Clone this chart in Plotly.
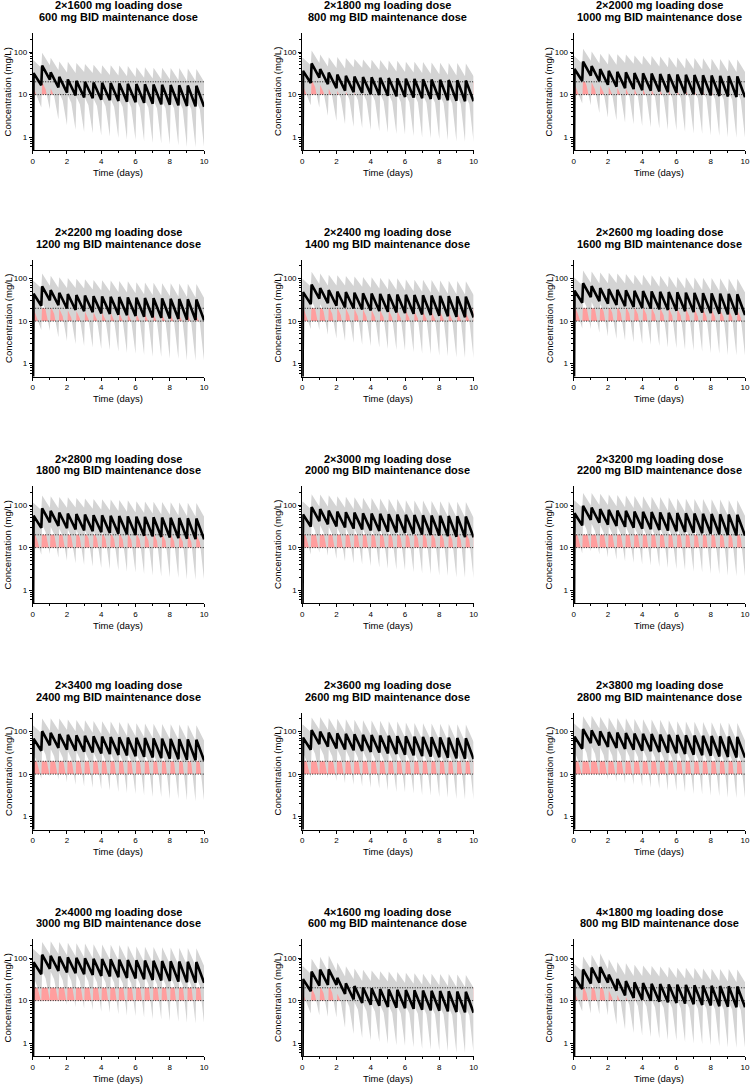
import plotly.graph_objects as go

LOADING_TITLES = ["2×1600 mg loading dose", "2×1800 mg loading dose", "2×2000 mg loading dose",
                  "2×2200 mg loading dose", "2×2400 mg loading dose", "2×2600 mg loading dose",
                  "2×2800 mg loading dose", "2×3000 mg loading dose", "2×3200 mg loading dose",
                  "2×3400 mg loading dose", "2×3600 mg loading dose", "2×3800 mg loading dose",
                  "2×4000 mg loading dose", "4×1600 mg loading dose", "4×1800 mg loading dose"]
MAINTENANCE_TITLES = ["600 mg BID maintenance dose", "800 mg BID maintenance dose", "1000 mg BID maintenance dose",
                      "1200 mg BID maintenance dose", "1400 mg BID maintenance dose", "1600 mg BID maintenance dose",
                      "1800 mg BID maintenance dose", "2000 mg BID maintenance dose", "2200 mg BID maintenance dose",
                      "2400 mg BID maintenance dose", "2600 mg BID maintenance dose", "2800 mg BID maintenance dose",
                      "3000 mg BID maintenance dose", "600 mg BID maintenance dose", "800 mg BID maintenance dose"]

# dose times (days), BID
DOSE_TIMES = [0.0, 0.5, 1.0, 1.5, 2.0, 2.5, 3.0, 3.5, 4.0, 4.5,
              5.0, 5.5, 6.0, 6.5, 7.0, 7.5, 8.0, 8.5, 9.0, 9.5]
TARGET_LOW = 10
TARGET_HIGH = 20
PREDOSE_CONC = 0.01   # 0 mg/L before first dose (log axis)

# median profile: peak after each dose, trough at the end of each interval (mg/L)
MEDIAN_PEAK = [
    [32, 47.8, 33.3, 26.0, 22.7, 21.0, 20.1, 19.3, 19.0, 18.7, 18.3, 18.0, 17.8, 17.5, 17.3, 17.0, 16.8, 16.6, 16.3, 16.1],
    [36, 53.8, 39.9, 32.8, 29.4, 27.7, 26.7, 25.7, 25.4, 24.9, 24.4, 24.0, 23.7, 23.4, 23.0, 22.7, 22.4, 22.1, 21.8, 21.4],
    [40, 59.8, 46.6, 39.6, 36.2, 34.4, 33.3, 32.1, 31.7, 31.1, 30.5, 30.0, 29.6, 29.2, 28.8, 28.4, 28.0, 27.6, 27.2, 26.8],
    [44, 65.8, 53.3, 46.4, 43.0, 41.1, 39.9, 38.5, 38.0, 37.3, 36.6, 36.0, 35.5, 35.0, 34.6, 34.1, 33.6, 33.1, 32.6, 32.2],
    [48, 71.8, 59.9, 53.2, 49.7, 47.8, 46.5, 44.9, 44.4, 43.5, 42.7, 42.0, 41.4, 40.9, 40.3, 39.8, 39.2, 38.6, 38.1, 37.5],
    [52, 77.7, 66.6, 60.0, 56.6, 54.5, 53.0, 51.4, 50.7, 49.8, 48.8, 48.0, 47.4, 46.7, 46.1, 45.4, 44.8, 44.2, 43.5, 42.9],
    [56, 83.7, 73.2, 66.8, 63.3, 61.2, 59.6, 57.8, 57.1, 56.0, 54.9, 54.0, 53.3, 52.6, 51.8, 51.1, 50.4, 49.7, 49.0, 48.2],
    [60, 89.7, 79.9, 73.6, 70.1, 67.9, 66.2, 64.2, 63.4, 62.2, 61.0, 60.0, 59.2, 58.4, 57.6, 56.8, 56.0, 55.2, 54.4, 53.6],
    [64, 95.7, 86.6, 80.4, 76.9, 74.6, 72.8, 70.6, 69.7, 68.4, 67.1, 66.0, 65.1, 64.2, 63.4, 62.5, 61.6, 60.7, 59.8, 59.0],
    [68, 101.7, 93.2, 87.2, 83.6, 81.3, 79.4, 77.0, 76.1, 74.6, 73.2, 72.0, 71.0, 70.1, 69.1, 68.2, 67.2, 66.2, 65.3, 64.3],
    [72, 107.6, 99.9, 94.0, 90.5, 88.0, 85.9, 83.5, 82.4, 80.9, 79.3, 78.0, 77.0, 75.9, 74.9, 73.8, 72.8, 71.8, 70.7, 69.7],
    [76, 113.6, 106.5, 100.8, 97.2, 94.7, 92.5, 89.9, 88.8, 87.1, 85.4, 84.0, 82.9, 81.8, 80.6, 79.5, 78.4, 77.3, 76.2, 75.0],
    [80, 119.6, 113.2, 107.6, 104.0, 101.4, 99.1, 96.3, 95.1, 93.3, 91.5, 90.0, 88.8, 87.6, 86.4, 85.2, 84.0, 82.8, 81.6, 80.4],
    [32, 47.8, 53.3, 54.2, 34.2, 25.6, 22.0, 20.3, 19.5, 18.7, 18.3, 18.0, 17.8, 17.5, 17.3, 17.0, 16.8, 16.6, 16.3, 16.1],
    [36, 53.8, 59.9, 61.0, 41.0, 32.3, 28.7, 26.8, 25.9, 24.9, 24.4, 24.0, 23.7, 23.4, 23.0, 22.7, 22.4, 22.1, 21.8, 21.4],
]
MEDIAN_TROUGH = [
    [16.6, 22.4, 14.7, 11.1, 9.6, 8.6, 8.2, 7.6, 7.4, 7.1, 6.8, 6.6, 6.4, 6.1, 5.9, 5.8, 5.6, 5.4, 5.3, 5.2],
    [18.7, 25.2, 17.6, 14.1, 12.4, 11.4, 10.9, 10.2, 9.8, 9.4, 9.1, 8.8, 8.5, 8.2, 7.9, 7.7, 7.4, 7.2, 7.0, 7.0],
    [20.8, 28.0, 20.6, 17.0, 15.3, 14.2, 13.5, 12.7, 12.3, 11.8, 11.4, 11.0, 10.6, 10.2, 9.9, 9.6, 9.3, 9.0, 8.8, 8.7],
    [22.9, 30.8, 23.6, 19.9, 18.2, 17.0, 16.1, 15.2, 14.8, 14.2, 13.7, 13.2, 12.7, 12.2, 11.9, 11.5, 11.2, 10.8, 10.6, 10.4],
    [25.0, 33.6, 26.5, 22.9, 21.0, 19.8, 18.8, 17.8, 17.2, 16.5, 16.0, 15.4, 14.8, 14.3, 13.9, 13.4, 13.0, 12.6, 12.3, 12.2],
    [27.0, 36.4, 29.4, 25.7, 23.9, 22.4, 21.5, 20.3, 19.7, 18.9, 18.2, 17.6, 17.0, 16.3, 15.8, 15.4, 14.9, 14.4, 14.1, 13.9],
    [29.1, 39.2, 32.3, 28.7, 26.7, 25.2, 24.2, 22.9, 22.1, 21.2, 20.5, 19.8, 19.1, 18.4, 17.8, 17.3, 16.7, 16.2, 15.8, 15.7],
    [31.2, 42.0, 35.3, 31.6, 29.6, 28.0, 26.8, 25.4, 24.6, 23.6, 22.8, 22.0, 21.2, 20.4, 19.8, 19.2, 18.6, 18.0, 17.6, 17.4],
    [33.3, 44.8, 38.3, 34.5, 32.5, 30.8, 29.4, 27.9, 27.1, 26.0, 25.1, 24.2, 23.3, 22.4, 21.8, 21.1, 20.5, 19.8, 19.4, 19.1],
    [35.4, 47.6, 41.2, 37.5, 35.3, 33.6, 32.1, 30.5, 29.5, 28.3, 27.4, 26.4, 25.4, 24.5, 23.8, 23.0, 22.3, 21.6, 21.1, 20.9],
    [37.4, 50.4, 44.1, 40.3, 38.2, 36.2, 34.8, 33.0, 32.0, 30.7, 29.6, 28.6, 27.6, 26.5, 25.7, 25.0, 24.2, 23.4, 22.9, 22.6],
    [39.5, 53.2, 47.0, 43.3, 41.0, 39.0, 37.5, 35.6, 34.4, 33.0, 31.9, 30.8, 29.7, 28.6, 27.7, 26.9, 26.0, 25.2, 24.6, 24.4],
    [41.6, 56.0, 50.0, 46.2, 43.9, 41.8, 40.1, 38.1, 36.9, 35.4, 34.2, 33.0, 31.8, 30.6, 29.7, 28.8, 27.9, 27.0, 26.4, 26.1],
    [16.6, 22.4, 23.5, 23.4, 14.3, 10.6, 8.8, 8.0, 7.6, 7.1, 6.8, 6.6, 6.4, 6.1, 5.9, 5.8, 5.6, 5.4, 5.3, 5.2],
    [18.7, 25.2, 26.5, 26.3, 17.1, 13.3, 11.5, 10.5, 10.0, 9.4, 9.1, 8.8, 8.5, 8.2, 7.9, 7.7, 7.4, 7.2, 7.0, 7.0],
]

# upper edge of the prediction interval
UPPER_PEAK = [
    [64, 96, 73, 60, 59, 55, 52, 50, 49, 49, 48, 47, 44, 44, 43, 43, 42, 42, 41, 40],
    [72, 108, 88, 75, 76, 72, 69, 67, 66, 65, 63, 62, 59, 59, 58, 57, 56, 55, 55, 54],
    [80, 120, 103, 91, 94, 89, 87, 83, 82, 81, 79, 78, 74, 73, 72, 71, 70, 69, 68, 67],
    [88, 132, 117, 107, 103, 99, 96, 92, 91, 90, 88, 86, 82, 81, 80, 78, 77, 76, 75, 74],
    [96, 144, 132, 122, 119, 115, 112, 108, 107, 104, 102, 101, 95, 94, 93, 92, 90, 89, 88, 86],
    [104, 155, 147, 138, 136, 131, 127, 123, 122, 120, 117, 115, 109, 107, 106, 104, 103, 102, 100, 99],
    [112, 167, 161, 154, 152, 147, 143, 139, 137, 134, 132, 130, 123, 121, 119, 118, 116, 114, 113, 111],
    [120, 179, 176, 169, 161, 156, 152, 148, 146, 143, 140, 138, 130, 128, 127, 125, 123, 121, 120, 118],
    [128, 191, 191, 185, 177, 172, 167, 162, 160, 157, 154, 152, 143, 141, 139, 138, 136, 134, 132, 130],
    [136, 203, 205, 201, 192, 187, 183, 177, 175, 172, 168, 166, 156, 154, 152, 150, 148, 146, 144, 141],
    [144, 215, 220, 207, 199, 194, 189, 184, 181, 178, 174, 172, 162, 159, 157, 155, 153, 151, 148, 146],
    [152, 227, 234, 222, 214, 208, 204, 198, 195, 192, 188, 185, 174, 172, 169, 167, 165, 162, 160, 158],
    [160, 239, 249, 237, 229, 223, 218, 212, 209, 205, 201, 198, 186, 184, 181, 179, 176, 174, 171, 169],
    [64, 96, 107, 114, 79, 64, 57, 53, 51, 49, 48, 47, 45, 44, 43, 43, 42, 42, 41, 40],
    [72, 108, 120, 128, 94, 81, 75, 70, 67, 65, 63, 62, 59, 59, 58, 57, 56, 55, 55, 54],
]
UPPER_TROUGH = [
    [43, 49, 38, 33, 32, 34, 32, 30, 29, 28, 27, 26, 25, 24, 23, 23, 22, 21, 21, 20],
    [49, 55, 46, 42, 41, 44, 43, 40, 38, 37, 35, 34, 33, 32, 31, 30, 29, 28, 27, 27],
    [54, 62, 54, 51, 50, 55, 53, 50, 48, 46, 44, 43, 41, 40, 39, 37, 36, 35, 34, 34],
    [60, 68, 61, 60, 60, 58, 55, 52, 50, 48, 47, 45, 43, 41, 40, 39, 38, 37, 36, 35],
    [65, 74, 69, 69, 69, 67, 64, 61, 58, 56, 54, 52, 50, 49, 47, 46, 44, 43, 42, 41],
    [70, 80, 76, 77, 79, 76, 73, 69, 67, 64, 62, 60, 58, 55, 54, 52, 51, 49, 48, 47],
    [76, 86, 84, 86, 88, 86, 82, 78, 75, 72, 70, 67, 65, 63, 61, 59, 57, 55, 54, 53],
    [81, 92, 92, 92, 86, 81, 78, 74, 71, 68, 66, 64, 61, 59, 57, 56, 54, 52, 51, 50],
    [87, 99, 100, 100, 94, 89, 85, 81, 79, 75, 73, 70, 68, 65, 63, 61, 59, 57, 56, 55],
    [92, 105, 107, 109, 102, 97, 93, 88, 86, 82, 79, 77, 74, 71, 69, 67, 65, 63, 61, 61],
    [97, 111, 110, 101, 96, 91, 87, 83, 80, 77, 74, 72, 69, 66, 64, 63, 61, 59, 57, 57],
    [103, 117, 118, 108, 103, 98, 94, 89, 86, 83, 80, 77, 74, 72, 69, 67, 65, 63, 62, 61],
    [108, 123, 125, 116, 110, 105, 100, 95, 92, 89, 86, 83, 80, 77, 74, 72, 70, 68, 66, 65],
    [43, 49, 49, 49, 37, 32, 29, 29, 30, 28, 27, 26, 25, 24, 23, 23, 22, 21, 21, 20],
    [49, 55, 56, 55, 44, 40, 38, 38, 39, 37, 35, 34, 33, 32, 31, 30, 29, 28, 27, 27],
]

# lower edge of the prediction interval: after dose, mid-interval, end of interval
LOWER_PEAK = [
    [14.4, 20.1, 14.0, 10.9, 9.5, 8.8, 8.4, 8.1, 8.0, 7.9, 7.7, 7.6, 7.5, 7.4, 7.3, 7.1, 7.1, 7.0, 6.8, 6.8],
    [16.2, 22.6, 16.8, 13.8, 12.3, 11.6, 11.2, 10.8, 10.7, 10.5, 10.2, 10.1, 10.0, 9.8, 9.7, 9.5, 9.4, 9.3, 9.2, 9.0],
    [18.0, 25.1, 19.6, 16.6, 15.2, 14.4, 14.0, 13.5, 13.3, 13.1, 12.8, 12.6, 12.4, 12.3, 12.1, 11.9, 11.8, 11.6, 11.4, 11.3],
    [19.8, 27.6, 22.4, 19.5, 18.1, 17.3, 16.8, 16.2, 16.0, 15.7, 15.4, 15.1, 14.9, 14.7, 14.5, 14.3, 14.1, 13.9, 13.7, 13.5],
    [21.6, 30.2, 25.2, 22.3, 20.9, 20.1, 19.5, 18.9, 18.6, 18.3, 17.9, 17.6, 17.4, 17.2, 16.9, 16.7, 16.5, 16.2, 16.0, 15.8],
    [23.4, 32.6, 28.0, 25.2, 23.8, 22.9, 22.3, 21.6, 21.3, 20.9, 20.5, 20.2, 19.9, 19.6, 19.4, 19.1, 18.8, 18.6, 18.3, 18.0],
    [25.2, 35.2, 30.7, 28.1, 26.6, 25.7, 25.0, 24.3, 24.0, 23.5, 23.1, 22.7, 22.4, 22.1, 21.8, 21.5, 21.2, 20.9, 20.6, 20.2],
    [27.0, 37.7, 33.6, 30.9, 29.4, 28.5, 27.8, 27.0, 26.6, 26.1, 25.6, 25.2, 24.9, 24.5, 24.2, 23.9, 23.5, 23.2, 22.8, 22.5],
    [28.8, 40.2, 36.4, 33.8, 32.3, 31.3, 30.6, 29.7, 29.3, 28.7, 28.2, 27.7, 27.3, 27.0, 26.6, 26.3, 25.9, 25.5, 25.1, 24.8],
    [30.6, 42.7, 39.1, 36.6, 35.1, 34.1, 33.3, 32.3, 32.0, 31.3, 30.7, 30.2, 29.8, 29.4, 29.0, 28.6, 28.2, 27.8, 27.4, 27.0],
    [32.4, 45.2, 42.0, 39.5, 38.0, 37.0, 36.1, 35.1, 34.6, 34.0, 33.3, 32.8, 32.3, 31.9, 31.5, 31.0, 30.6, 30.2, 29.7, 29.3],
    [34.2, 47.7, 44.7, 42.3, 40.8, 39.8, 38.9, 37.8, 37.3, 36.6, 35.9, 35.3, 34.8, 34.4, 33.9, 33.4, 32.9, 32.5, 32.0, 31.5],
    [36.0, 50.2, 47.5, 45.2, 43.7, 42.6, 41.6, 40.4, 39.9, 39.2, 38.4, 37.8, 37.3, 36.8, 36.3, 35.8, 35.3, 34.8, 34.3, 33.8],
    [14.4, 20.1, 22.4, 22.8, 14.4, 10.8, 9.2, 8.5, 8.2, 7.9, 7.7, 7.6, 7.5, 7.4, 7.3, 7.1, 7.1, 7.0, 6.8, 6.8],
    [16.2, 22.6, 25.2, 25.6, 17.2, 13.6, 12.1, 11.3, 10.9, 10.5, 10.2, 10.1, 10.0, 9.8, 9.7, 9.5, 9.4, 9.3, 9.2, 9.0],
]
LOWER_MID = [
    [9.0, 13.4, 9.3, 7.3, 6.4, 5.9, 5.6, 5.4, 5.3, 5.2, 5.1, 5.0, 5.0, 4.9, 4.8, 4.8, 4.7, 4.6, 4.6, 4.5],
    [10.1, 15.1, 11.2, 9.2, 8.2, 7.8, 7.5, 7.2, 7.1, 7.0, 6.8, 6.7, 6.6, 6.6, 6.4, 6.4, 6.3, 6.2, 6.1, 6.0],
    [11.2, 16.7, 13.0, 11.1, 10.1, 9.6, 9.3, 9.0, 8.9, 8.7, 8.5, 8.4, 8.3, 8.2, 8.1, 8.0, 7.8, 7.7, 7.6, 7.5],
    [12.3, 18.4, 14.9, 13.0, 12.0, 11.5, 11.2, 10.8, 10.6, 10.4, 10.2, 10.1, 9.9, 9.8, 9.7, 9.5, 9.4, 9.3, 9.1, 9.0],
    [13.4, 20.1, 16.8, 14.9, 13.9, 13.4, 13.0, 12.6, 12.4, 12.2, 12.0, 11.8, 11.6, 11.5, 11.3, 11.1, 11.0, 10.8, 10.7, 10.5],
    [14.6, 21.8, 18.6, 16.8, 15.8, 15.3, 14.8, 14.4, 14.2, 13.9, 13.7, 13.4, 13.3, 13.1, 12.9, 12.7, 12.5, 12.4, 12.2, 12.0],
    [15.7, 23.4, 20.5, 18.7, 17.7, 17.1, 16.7, 16.2, 16.0, 15.7, 15.4, 15.1, 14.9, 14.7, 14.5, 14.3, 14.1, 13.9, 13.7, 13.5],
    [16.8, 25.1, 22.4, 20.6, 19.6, 19.0, 18.5, 18.0, 17.8, 17.4, 17.1, 16.8, 16.6, 16.4, 16.1, 15.9, 15.7, 15.5, 15.2, 15.0],
    [17.9, 26.8, 24.2, 22.5, 21.5, 20.9, 20.4, 19.8, 19.5, 19.2, 18.8, 18.5, 18.2, 18.0, 17.8, 17.5, 17.2, 17.0, 16.7, 16.5],
    [19.0, 28.5, 26.1, 24.4, 23.4, 22.8, 22.2, 21.6, 21.3, 20.9, 20.5, 20.2, 19.9, 19.6, 19.3, 19.1, 18.8, 18.5, 18.3, 18.0],
    [20.2, 30.1, 28.0, 26.3, 25.3, 24.6, 24.1, 23.4, 23.1, 22.7, 22.2, 21.8, 21.6, 21.3, 21.0, 20.7, 20.4, 20.1, 19.8, 19.5],
    [21.3, 31.8, 29.8, 28.2, 27.2, 26.5, 25.9, 25.2, 24.9, 24.4, 23.9, 23.5, 23.2, 22.9, 22.6, 22.3, 22.0, 21.6, 21.3, 21.0],
    [22.4, 33.5, 31.7, 30.1, 29.1, 28.4, 27.7, 27.0, 26.6, 26.1, 25.6, 25.2, 24.9, 24.5, 24.2, 23.9, 23.5, 23.2, 22.8, 22.5],
    [9.0, 13.4, 14.9, 15.2, 9.6, 7.2, 6.2, 5.7, 5.5, 5.2, 5.1, 5.0, 5.0, 4.9, 4.8, 4.8, 4.7, 4.6, 4.6, 4.5],
    [10.1, 15.1, 16.8, 17.1, 11.5, 9.0, 8.0, 7.5, 7.3, 7.0, 6.8, 6.7, 6.6, 6.6, 6.4, 6.4, 6.3, 6.2, 6.1, 6.0],
]
LOWER_TROUGH = [
    [5.0, 4.5, 2.6, 1.9, 1.5, 1.33, 1.23, 1.10, 1.04, 0.96, 0.88, 0.86, 0.80, 0.73, 0.71, 0.67, 0.64, 0.59, 0.58, 0.57],
    [5.6, 5.0, 3.2, 2.4, 2.0, 1.77, 1.64, 1.48, 1.37, 1.27, 1.18, 1.14, 1.06, 0.98, 0.95, 0.89, 0.85, 0.79, 0.77, 0.77],
    [6.2, 5.6, 3.7, 2.9, 2.45, 2.2, 2.0, 1.84, 1.72, 1.59, 1.48, 1.43, 1.33, 1.22, 1.19, 1.10, 1.07, 0.99, 0.97, 0.96],
    [6.2, 5.9, 4.2, 3.4, 2.9, 2.6, 2.4, 2.2, 2.1, 1.92, 1.78, 1.72, 1.59, 1.46, 1.43, 1.32, 1.29, 1.19, 1.17, 1.14],
    [6.5, 6.2, 4.8, 3.9, 3.4, 3.1, 2.8, 2.6, 2.4, 2.2, 2.1, 2.0, 1.85, 1.72, 1.67, 1.54, 1.50, 1.39, 1.35, 1.34],
    [6.7, 6.5, 5.3, 4.4, 3.8, 3.5, 3.2, 2.9, 2.8, 2.6, 2.4, 2.3, 2.1, 2.0, 1.9, 1.77, 1.71, 1.58, 1.55, 1.53],
    [6.8, 7.1, 5.8, 4.9, 4.3, 3.9, 3.6, 3.3, 3.1, 2.9, 2.7, 2.6, 2.4, 2.2, 2.1, 2.0, 1.92, 1.78, 1.74, 1.73],
    [6.9, 7.6, 6.4, 5.4, 4.7, 4.3, 4.0, 3.7, 3.4, 3.2, 3.0, 2.9, 2.65, 2.45, 2.38, 2.2, 2.14, 1.98, 1.94, 1.91],
    [7.3, 8.1, 6.9, 5.9, 5.2, 4.8, 4.4, 4.0, 3.8, 3.5, 3.3, 3.1, 2.9, 2.7, 2.6, 2.4, 2.36, 2.18, 2.13, 2.1],
    [7.8, 8.6, 7.4, 6.4, 5.6, 5.2, 4.8, 4.4, 4.1, 3.8, 3.6, 3.4, 3.2, 2.9, 2.9, 2.6, 2.6, 2.4, 2.3, 2.3],
    [8.2, 9.1, 7.9, 6.9, 6.1, 5.6, 5.2, 4.8, 4.5, 4.1, 3.8, 3.7, 3.5, 3.2, 3.1, 2.9, 2.8, 2.6, 2.5, 2.5],
    [8.7, 9.6, 8.5, 7.4, 6.6, 6.0, 5.6, 5.2, 4.8, 4.5, 4.1, 4.0, 3.7, 3.4, 3.3, 3.1, 3.0, 2.8, 2.7, 2.7],
    [9.2, 10.1, 9.0, 7.9, 7.0, 6.5, 6.0, 5.5, 5.2, 4.8, 4.4, 4.3, 4.0, 3.7, 3.6, 3.3, 3.2, 3.0, 2.9, 2.9],
    [5.0, 4.5, 4.2, 4.0, 2.3, 1.64, 1.32, 1.16, 1.06, 0.96, 0.88, 0.86, 0.80, 0.73, 0.71, 0.67, 0.64, 0.59, 0.58, 0.57],
    [5.6, 5.0, 4.8, 4.5, 2.7, 2.1, 1.73, 1.52, 1.40, 1.27, 1.18, 1.14, 1.06, 0.98, 0.95, 0.89, 0.85, 0.79, 0.77, 0.77],
]

DOSING_INTERVAL = 0.5   # days
PEAK_DELAY = 0.05       # days from dose to peak
MID_DELAY = 0.25

fig_w, fig_h = 755, 1085
col_left = [31, 303, 577]
plot_w = 173
row_top = [33, 259.5, 486, 712.5, 939]
plot_h = 117

font_family = "Liberation Sans, Arial, sans-serif"
grey_band = '#d4d4d4'
pink = '#ff9e9e'


def fx(px):
    return px / fig_w


def fy(px):
    return 1 - px / fig_h


def sawtooth(peaks, troughs, start):
    xs, ys = [0.0], [start]
    for t, p, tr in zip(DOSE_TIMES, peaks, troughs):
        xs += [t + PEAK_DELAY, t + DOSING_INTERVAL]
        ys += [p, tr]
    return xs, ys


def lower_edge(peaks, mids, troughs):
    xs, ys = [0.0], [peaks[0]]
    for t, p, m, tr in zip(DOSE_TIMES, peaks, mids, troughs):
        xs += [t + PEAK_DELAY, t + MID_DELAY, t + DOSING_INTERVAL]
        ys += [p, m, tr]
    return xs, ys


fig = go.Figure()
annotations = []

for k in range(len(LOADING_TITLES)):
    r, c = divmod(k, 3)
    sfx = '' if k == 0 else str(k + 1)
    xa, ya = 'x' + sfx, 'y' + sfx
    t_end = DOSE_TIMES[-1] + DOSING_INTERVAL

    # target range (shows through where the band does not cover it)
    fig.add_trace(go.Scatter(x=[0, t_end, t_end, 0, 0],
                             y=[TARGET_LOW, TARGET_LOW, TARGET_HIGH, TARGET_HIGH, TARGET_LOW],
                             fill='toself', fillcolor=pink, mode='lines', line={'width': 0},
                             hoverinfo='skip', xaxis=xa, yaxis=ya))

    ux, uy = sawtooth(UPPER_PEAK[k], UPPER_TROUGH[k], UPPER_PEAK[k][0])
    lx, ly = lower_edge(LOWER_PEAK[k], LOWER_MID[k], LOWER_TROUGH[k])
    fig.add_trace(go.Scatter(x=ux + lx[::-1], y=uy + ly[::-1],
                             fill='toself', fillcolor=grey_band, mode='lines', line={'width': 0},
                             hoverinfo='skip', xaxis=xa, yaxis=ya))

    for level in (TARGET_LOW, TARGET_HIGH):
        fig.add_trace(go.Scatter(x=[0, t_end], y=[level, level], mode='lines',
                                 line={'color': '#111111', 'width': 1, 'dash': '1px,1.5px'},
                                 xaxis=xa, yaxis=ya))

    mx, my = sawtooth(MEDIAN_PEAK[k], MEDIAN_TROUGH[k], PREDOSE_CONC)
    fig.add_trace(go.Scatter(x=mx, y=my, mode='lines',
                             line={'color': 'black', 'width': 2.6},
                             xaxis=xa, yaxis=ya))

    left, top = col_left[c], row_top[r]
    fig.layout['xaxis' + sfx] = dict(
        domain=[fx(left), fx(left + plot_w)], anchor=ya, range=[0, 10],
        tickvals=[0, 2, 4, 6, 8, 10], ticks='outside', ticklen=3, tickwidth=1, tickcolor='black',
        minor={'tickvals': [1, 3, 5, 7, 9], 'ticks': 'outside', 'ticklen': 2, 'tickcolor': 'black',
               'showgrid': False},
        showline=True, linecolor='black', linewidth=1, showgrid=False, zeroline=False,
        tickfont={'size': 8, 'color': 'black'})
    fig.layout['yaxis' + sfx] = dict(
        domain=[fy(top + plot_h), fy(top)], anchor=xa, type='log', range=[-0.301, 2.447],
        tickvals=[1, 10, 100], ticktext=['1', '10', '100'], ticks='outside', ticklen=3,
        tickwidth=1, tickcolor='black',
        minor={'tickvals': [0.6, 0.7, 0.8, 0.9, 2, 3, 4, 5, 6, 7, 8, 9,
                            20, 30, 40, 50, 60, 70, 80, 90, 200],
               'ticks': 'outside', 'ticklen': 2, 'tickcolor': 'black', 'showgrid': False},
        showline=True, linecolor='black', linewidth=1, showgrid=False, zeroline=False,
        tickfont={'size': 8, 'color': 'black'})

    cx = fx(left + plot_w / 2)
    annotations.append(dict(text='<b>' + LOADING_TITLES[k] + '</b>', x=cx, y=fy(top - 27.5),
                            xref='paper', yref='paper', showarrow=False, xanchor='center',
                            yanchor='middle', font={'size': 11, 'color': 'black'}))
    annotations.append(dict(text='<b>' + MAINTENANCE_TITLES[k] + '</b>', x=cx, y=fy(top - 16),
                            xref='paper', yref='paper', showarrow=False, xanchor='center',
                            yanchor='middle', font={'size': 11, 'color': 'black'}))
    annotations.append(dict(text='Time (days)', x=cx, y=fy(top + plot_h + 22),
                            xref='paper', yref='paper', showarrow=False, xanchor='center',
                            yanchor='middle', font={'size': 9.5, 'color': 'black'}))
    annotations.append(dict(text='Concentration (mg/L)', x=fx(left - 25), y=fy(top + plot_h / 2),
                            xref='paper', yref='paper', showarrow=False, textangle=-90,
                            xanchor='center', yanchor='middle', font={'size': 9.5, 'color': 'black'}))

fig.update_layout(
    width=fig_w, height=fig_h,
    margin={'l': 0, 'r': 0, 't': 0, 'b': 0},
    paper_bgcolor='white', plot_bgcolor='white',
    showlegend=False,
    font={'family': font_family, 'color': 'black'},
    annotations=annotations
)

fig.write_html("out.html", config={'displayModeBar': False},
               post_script="document.body.style.margin='0';document.body.style.overflow='hidden';")
